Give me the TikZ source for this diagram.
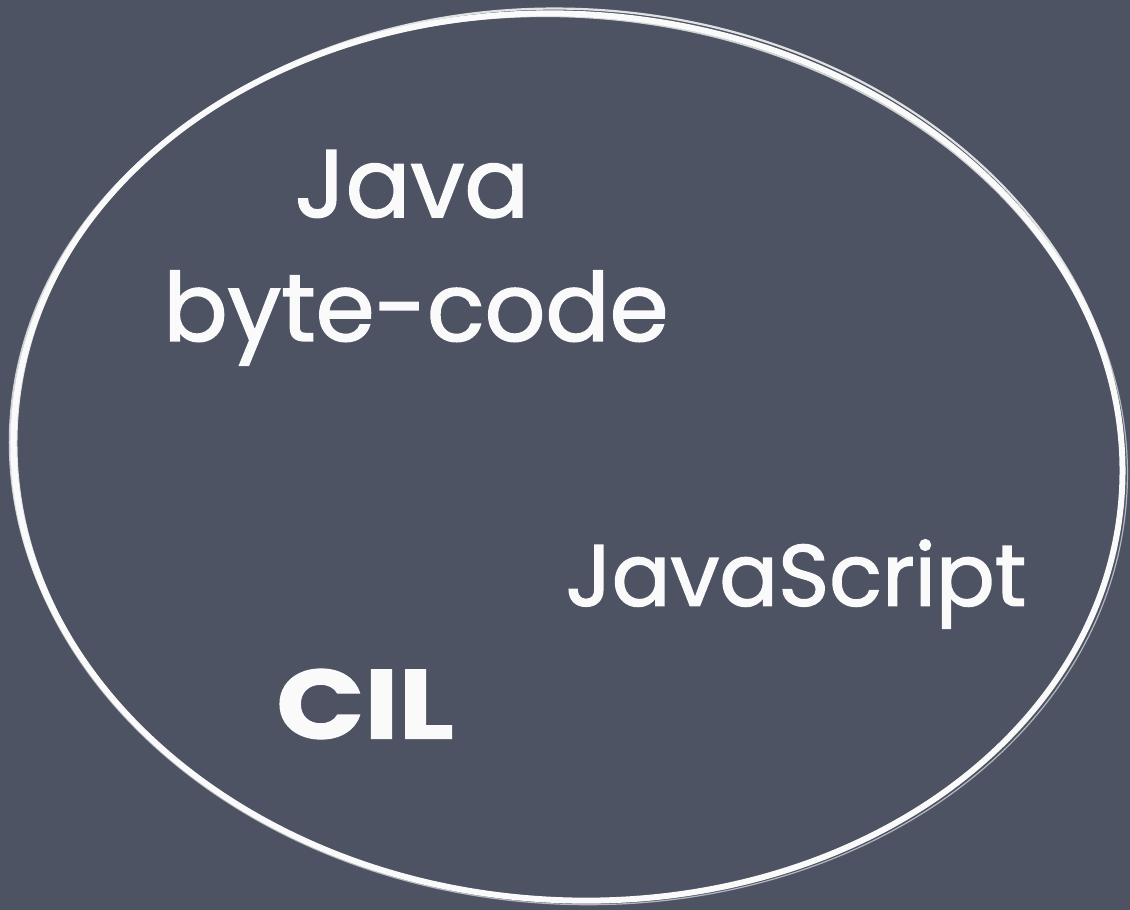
\documentclass[tikz,border=0pt]{standalone}
\usepackage{fontspec}
\setmainfont{Poppins}[FakeBold=1.2]
\newfontfamily\chalkfont{Poppins}[FakeBold=1.6]
\definecolor{board}{RGB}{77,83,99}
\definecolor{chalk}{RGB}{250,250,250}
\tikzset{
  chalkline/.style={draw=chalk, line width=#1},
  label/.style={text=chalk, inner sep=0pt, anchor=center},
}
\begin{document}
\begin{tikzpicture}[x=1pt,y=-1pt]
  % board
  \fill[board] (0,0) rectangle (1130,910);
  \useasboundingbox (0,0) rectangle (1130,910);
  % hand-drawn ring, a few overlapping strokes
  \coordinate (c) at (568,457);
  \draw[chalkline=6pt] (c) ellipse[x radius=555, y radius=443, rotate=-4];
  \draw[chalkline=2.2pt, opacity=0.85] ([shift={(2,-2)}]c) ellipse[x radius=554, y radius=446, rotate=-3.5];
  \draw[chalkline=1.8pt, opacity=0.75] ([shift={(-2,1)}]c) ellipse[x radius=557, y radius=441, rotate=-4.5];
  \draw[chalkline=1.2pt, opacity=0.6] ([shift={(1,2)}]c) ellipse[x radius=559, y radius=445, rotate=-4.2];
  % labels
  \node[label, font=\chalkfont\fontsize{96}{96}\selectfont] (java) at (412,184) {Java};
  \node[label, font=\chalkfont\fontsize{95}{95}\selectfont] (bc) at (416,318) {byte-code};
  \node[label, font=\chalkfont\fontsize{87}{87}\selectfont] (js) at (796,584) {JavaScript};
  \node[label, font=\fontsize{98}{98}\selectfont\bfseries] (cil) at (365,704) {\scalebox{1.18}[1]{CIL}};
\end{tikzpicture}
\end{document}
